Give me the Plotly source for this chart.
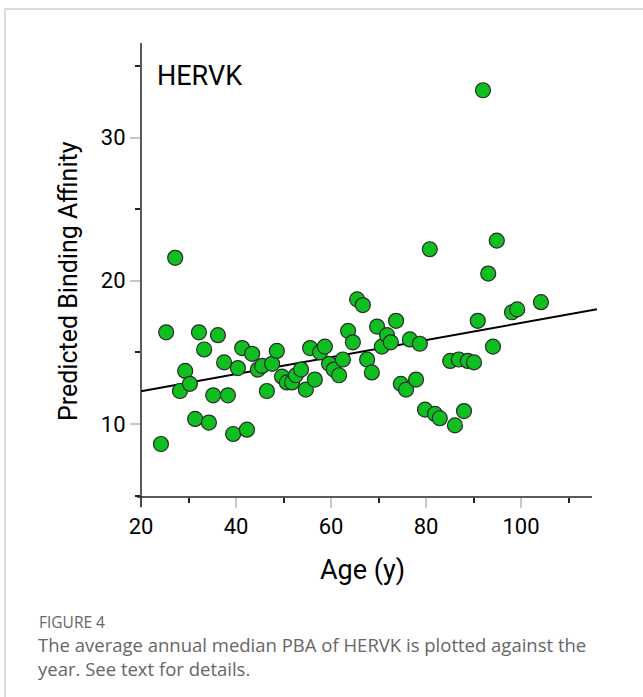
import numpy as np
import plotly.graph_objects as go

# Data
ages = [24.2, 25.3, 27.2, 28.2, 29.3, 30.3, 31.4, 32.2, 33.3, 34.3, 35.2, 36.2, 37.5, 38.3,
        39.4, 40.4, 41.3, 42.3, 43.4, 44.6, 45.5, 46.5, 47.6, 48.6, 49.7, 50.7, 51.8, 52.6,
        53.7, 54.7, 55.6, 56.6, 57.7, 58.7, 59.6, 60.6, 61.7, 62.5, 63.6, 64.6, 65.5, 66.7,
        67.6, 68.6, 69.7, 70.7, 71.8, 72.6, 73.7, 74.7, 75.8, 76.6, 77.9, 78.7, 79.8, 80.8,
        81.9, 82.9, 85.1, 86.1, 86.9, 88.0, 88.8, 90.1, 90.9, 92.0, 93.1, 94.1, 94.9, 98.1,
        99.2, 104.2]
pba = [8.6, 16.4, 21.6, 12.3, 13.7, 12.8, 10.35, 16.4, 15.2, 10.1, 12.0, 16.2, 14.3, 12.0,
       9.3, 13.9, 15.3, 9.6, 14.9, 13.8, 14.05, 12.3, 14.2, 15.1, 13.3, 12.9, 12.9, 13.4,
       13.8, 12.4, 15.3, 13.1, 15.0, 15.4, 14.2, 13.8, 13.4, 14.5, 16.5, 15.7, 18.7, 18.3,
       14.5, 13.6, 16.8, 15.4, 16.2, 15.7, 17.2, 12.8, 12.4, 15.9, 13.1, 15.6, 11.0, 22.2,
       10.7, 10.4, 14.4, 9.9, 14.5, 10.9, 14.4, 14.3, 17.2, 33.3, 20.5, 15.4, 22.8, 17.8,
       18.0, 18.5]
fit_range = [20, 116]
x_ticks = [20, 40, 60, 80, 100]
y_ticks = [10, 20, 30]

slope, intercept = np.polyfit(ages, pba, 1)
fit_y = [slope * v + intercept for v in fit_range]

W, H = 643, 697
L, R, T, B = 141, 597, 43, 497
pw, ph = R - L, B - T

def px(xp):
    return (xp - L) / pw

def py(yp):
    return (B - yp) / ph

fig = go.Figure()
fig.add_trace(go.Scatter(x=fit_range, y=fit_y, mode="lines",
                         line=dict(color="black", width=2), hoverinfo="skip"))
fig.add_trace(go.Scatter(x=ages, y=pba, mode="markers",
                         marker=dict(size=15, color="#0fbf1f",
                                     line=dict(color="#2a2a2a", width=1.2))))

axis_font = dict(family="Roboto", size=22, color="#000")
fig.update_xaxes(range=[20, 116], tickvals=x_ticks, ticks="outside", ticklen=10,
                 tickcolor="#c8c8c8", tickwidth=1.5, showline=False, showgrid=False,
                 zeroline=False, tickfont=axis_font,
                 minor=dict(ticks="outside", dtick=10, tick0=30, ticklen=5,
                            tickcolor="#222", tickwidth=1.5, showgrid=False))
fig.update_yaxes(range=[4.9, 36.6], tickvals=y_ticks, ticks="outside", ticklen=10,
                 tickcolor="#c8c8c8", tickwidth=1.5, showline=False, showgrid=False,
                 zeroline=False, tickfont=axis_font,
                 minor=dict(ticks="outside", dtick=10, tick0=5, ticklen=5,
                            tickcolor="#222", tickwidth=1.5, showgrid=False))

shapes = [
    # axis lines
    dict(type="line", xref="paper", yref="paper", x0=px(137), x1=px(592), y0=0, y1=0,
         line=dict(color="#222", width=1.5)),
    dict(type="line", xref="paper", yref="paper", x0=0, x1=0, y0=py(507), y1=1,
         line=dict(color="#222", width=1.5)),
    # figure frame
    dict(type="rect", xref="paper", yref="paper", x0=px(5), x1=px(660), y0=py(9), y1=py(720),
         line=dict(color="#cfcfcf", width=1.5), layer="below"),
]

annotations = [
    dict(text="HERVK", x=px(155), y=py(76), xref="paper", yref="paper", showarrow=False,
         xanchor="left", yanchor="middle",
         font=dict(family="Roboto", size=27, color="#000")),
    dict(text="Predicted Binding Affinity", x=px(68), y=py(281), xref="paper", yref="paper",
         showarrow=False, textangle=-90, xanchor="center", yanchor="middle",
         font=dict(family="Roboto", size=25, color="#000")),
    dict(text="Age (y)", x=px(362), y=py(570), xref="paper", yref="paper", showarrow=False,
         xanchor="center", yanchor="middle",
         font=dict(family="Roboto", size=27, color="#000")),
    dict(text="FIGURE 4", x=px(37), y=py(622), xref="paper", yref="paper", showarrow=False,
         xanchor="left", yanchor="middle", font=dict(family="Open Sans", size=15.5, color="#666")),
    dict(text="The average annual median PBA of HERVK is plotted against the", x=px(36),
         y=py(644), xref="paper", yref="paper", showarrow=False, xanchor="left",
         yanchor="middle", font=dict(family="Open Sans", size=18.5, color="#666")),
    dict(text="year. See text for details.", x=px(36), y=py(668), xref="paper", yref="paper",
         showarrow=False, xanchor="left", yanchor="middle",
         font=dict(family="Open Sans", size=18.5, color="#666")),
]

fig.update_layout(width=W, height=H, margin=dict(l=L, r=W - R, t=T, b=H - B),
                  plot_bgcolor="white", paper_bgcolor="white", showlegend=False,
                  shapes=shapes, annotations=annotations)
fig.write_html("out.html")
